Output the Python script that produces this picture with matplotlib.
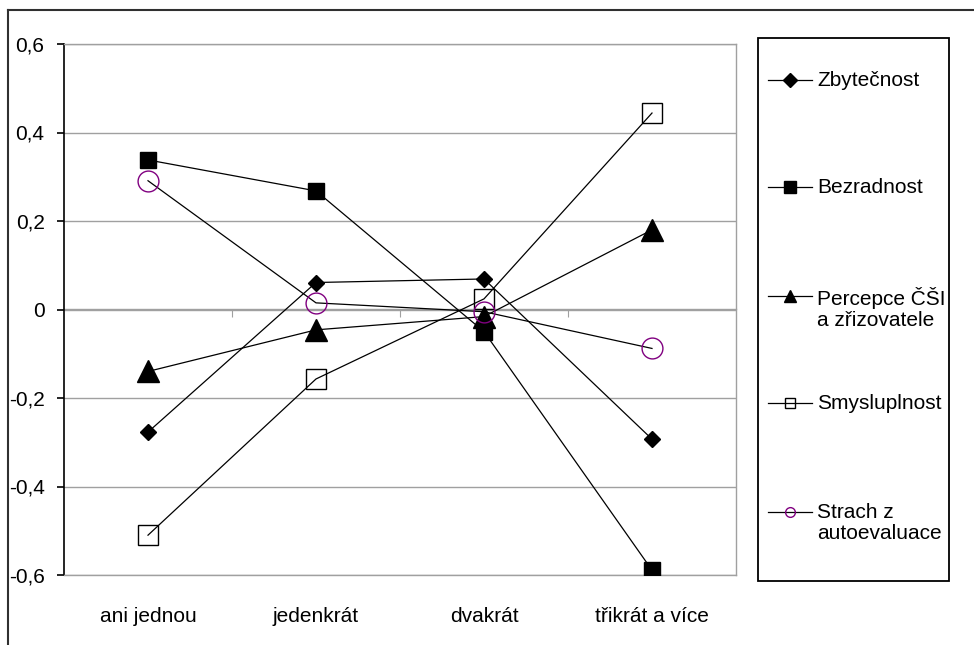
import matplotlib
matplotlib.use("Agg")
import matplotlib.pyplot as plt
from matplotlib.lines import Line2D
from matplotlib.patches import Rectangle

plt.rcParams['font.family'] = ['Liberation Sans', 'DejaVu Sans']

categories = ["ani jednou", "jedenkrát", "dvakrát", "třikrát a více"]
zbytecnost = [-0.277, 0.061, 0.069, -0.293]
bezradnost = [0.338, 0.268, -0.050, -0.589]
percepce = [-0.140, -0.046, -0.016, 0.180]
smysluplnost = [-0.510, -0.157, 0.024, 0.444]
strach = [0.291, 0.015, -0.005, -0.088]

series_labels = ["Zbytečnost", "Bezradnost", "Percepce ČŠI\na zřizovatele",
                 "Smysluplnost", "Strach z\nautoevaluace"]
y_ticks = [-0.6, -0.4, -0.2, 0.0, 0.2, 0.4, 0.6]
y_tick_labels = ["-0,6", "-0,4", "-0,2", "0", "0,2", "0,4", "0,6"]

W, H = 974, 645
fig = plt.figure(figsize=(W / 100, H / 100), dpi=100)
fig.patch.set_facecolor("white")

# plot area in pixel geometry
L, R, T, B = 64, 736, 44, 575
ax = fig.add_axes([L / W, 1 - B / H, (R - L) / W, (B - T) / H])

grid_c = "#a0a0a0"
lw = 0.9
styles = [
    dict(marker="D", ms=8.5, mfc="black", mec="black"),
    dict(marker="s", ms=11, mfc="black", mec="black"),
    dict(marker="^", ms=16, mfc="black", mec="black"),
    dict(marker="s", ms=15, mfc="none", mec="black", mew=1.0),
    dict(marker="o", ms=15, mfc="none", mec="#800080", mew=1.0),
]
data = [zbytecnost, bezradnost, percepce, smysluplnost, strach]
x = list(range(len(categories)))
for vals, st in zip(data, styles):
    ax.plot(x, vals, color="black", lw=lw, **st, zorder=3)

ax.set_xlim(-0.5, len(categories) - 0.5)
ax.set_ylim(-0.6, 0.6)
ax.set_yticks(y_ticks)
ax.set_yticklabels(y_tick_labels)
ax.yaxis.grid(True, color=grid_c, lw=1.0)
ax.set_axisbelow(True)

for s in ["top", "right", "bottom"]:
    ax.spines[s].set_color(grid_c)
    ax.spines[s].set_linewidth(1.0)
ax.spines["left"].set_color("black")
ax.spines["left"].set_linewidth(1.2)

ax.set_xticks(x)
ax.set_xticklabels(categories)
ax.tick_params(axis="x", length=0, labelsize=15, pad=23, colors="#000000")
ax.tick_params(axis="y", length=5, width=1.2, direction="out", labelsize=15,
               pad=9, colors="black")

# category axis crossing at zero with boundary ticks
sec = ax.secondary_xaxis(0.5)
sec.set_xticks([i + 0.5 for i in x[:-1]])
sec.set_xticklabels([])
sec.tick_params(axis="x", which="both", length=5, direction="out", color=grid_c,
                labelbottom=False, labeltop=False, top=False, bottom=True)
for sp in sec.spines.values():
    sp.set_color(grid_c)
    sp.set_linewidth(1.0)

# legend box
lx0, ly0, lx1, ly1 = 758, 38, 949, 581
fig.patches.append(Rectangle((lx0 / W, 1 - ly1 / H), (lx1 - lx0) / W, (ly1 - ly0) / H,
                             transform=fig.transFigure, fill=False,
                             edgecolor="black", lw=1.3))
leg_y = [80, 187, 296, 403, 512]
leg_styles = [
    dict(marker="D", ms=7, mfc="black", mec="black"),
    dict(marker="s", ms=8, mfc="black", mec="black"),
    dict(marker="^", ms=9, mfc="black", mec="black"),
    dict(marker="s", ms=7, mfc="none", mec="black", mew=1.0),
    dict(marker="o", ms=7, mfc="none", mec="#800080", mew=1.0),
]
for yy, st, lab in zip(leg_y, leg_styles, series_labels):
    fy = 1 - yy / H
    fig.add_artist(Line2D([768 / W, 812 / W], [fy, fy], transform=fig.transFigure,
                          color="black", lw=lw))
    fig.add_artist(Line2D([790 / W], [fy], transform=fig.transFigure,
                          color="black", lw=0, **st))
    fig.text(817 / W, fy + 9 / H, lab, fontsize=15, va="top", ha="left",
             linespacing=1.15)

# outer frame
fig.add_artist(Line2D([8 / W, 8 / W], [0, 1 - 10 / H], transform=fig.transFigure,
                      color="#303030", lw=1.5))
fig.add_artist(Line2D([8 / W, 1], [1 - 10 / H, 1 - 10 / H], transform=fig.transFigure,
                      color="#303030", lw=1.5))

fig.savefig("out.png", dpi=100, facecolor="white")
